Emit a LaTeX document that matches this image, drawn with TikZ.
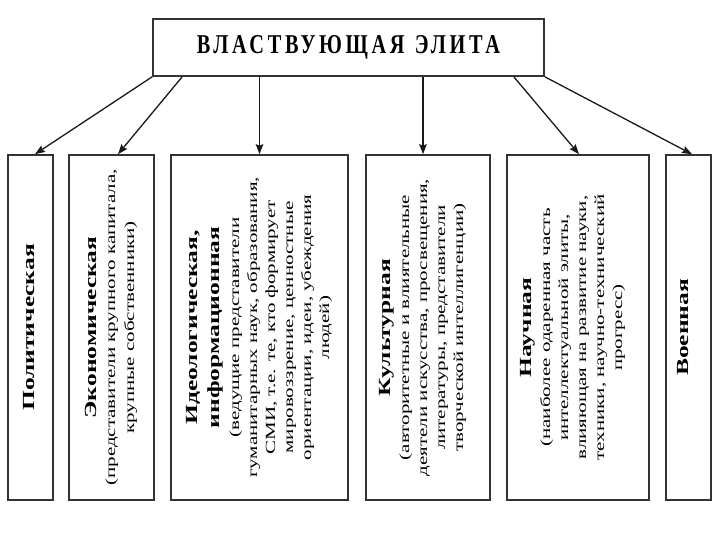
\documentclass[tikz,border=0pt]{standalone}
\usepackage{fontspec}
\setmainfont{Liberation Serif}
\usepackage{graphicx}
\usetikzlibrary{arrows.meta}
\newcommand{\vtext}[1]{\scalebox{1.5}[1]{\fontsize{14}{18}\selectfont\begin{tabular}{@{}c@{}}#1\end{tabular}}}
\newcommand{\hd}[1]{{\fontsize{17}{18}\selectfont\bfseries #1}}
\begin{document}
\begin{tikzpicture}[x=1pt,y=1pt,
  box/.style={draw=black!80, line width=1.6pt, fill=white, inner sep=0pt},
  conn/.style={-{Stealth[length=10pt,width=7.5pt,inset=1.5pt]}, line width=1.3pt, black!90}]
\useasboundingbox[fill=white] (0,0) rectangle (720,540);
\node[box, minimum width=391pt, minimum height=57pt] (top) at (348.5,492.5)
  {\resizebox{303pt}{18pt}{\bfseries\addfontfeatures{LetterSpace=18}ВЛАСТВУЮЩАЯ\hspace{0.5em}ЭЛИТА}};
\node[box, minimum width=45pt,  minimum height=345pt] (b1) at (30.5,212.5) {};
\node[box, minimum width=85pt,  minimum height=345pt] (b2) at (111.5,212.5) {};
\node[box, minimum width=177pt, minimum height=345pt] (b3) at (259.5,212.5) {};
\node[box, minimum width=124pt, minimum height=345pt] (b4) at (428,212.5) {};
\node[box, minimum width=142pt, minimum height=345pt] (b5) at (578,212.5) {};
\node[box, minimum width=45pt,  minimum height=345pt] (b6) at (688.5,212.5) {};
\node[rotate=90] (t1) at (b1.center) {\vtext{\hd{Политическая}}};
\node[rotate=90] (t2) at (b2.center) {\vtext{\hd{Экономическая}\\[1pt] (представители крупного капитала,\\[1pt] крупные собственники)}};
\node[rotate=90] (t3) at (b3.center) {\vtext{\hd{Идеологическая,}\\[4pt] \hd{информационная}\\[2pt] (ведущие представители\\ гуманитарных наук, образования,\\ СМИ, т.е. те, кто формирует\\ мировоззрение, ценностные\\ ориентации, идеи, убеждения\\ людей)}};
\node[rotate=90] (t4) at ([xshift=-5pt]b4.center) {\vtext{\hd{Культурная}\\[1pt] (авторитетные и влиятельные\\ деятели искусства, просвещения,\\ литературы, представители\\ творческой интеллигенции)}};
\node[rotate=90] (t5) at ([xshift=-5pt]b5.center) {\vtext{\hd{Научная}\\[1pt] (наиболее одаренная часть\\ интеллектуальной элиты,\\ влияющая на развитие науки,\\ техники, научно-технический\\ прогресс)}};
\node[rotate=90] (t6) at ([xshift=-4pt]b6.center) {\vtext{\hd{Военная}}};
\draw[conn] (top.south west) -- ([xshift=4.5pt]b1.north);
\draw[conn] ([xshift=30pt]top.south west) -- ([xshift=6.5pt]b2.north);
\draw[conn] (b3.north |- top.south) -- (b3.north);
\draw[conn] ([xshift=-5pt]b4.north |- top.south) -- ([xshift=-5pt]b4.north);
\draw[conn] ([xshift=-31pt]top.south east) -- ([xshift=1pt]b5.north);
\draw[conn] (top.south east) -- ([xshift=3.5pt]b6.north);
\end{tikzpicture}
\end{document}
